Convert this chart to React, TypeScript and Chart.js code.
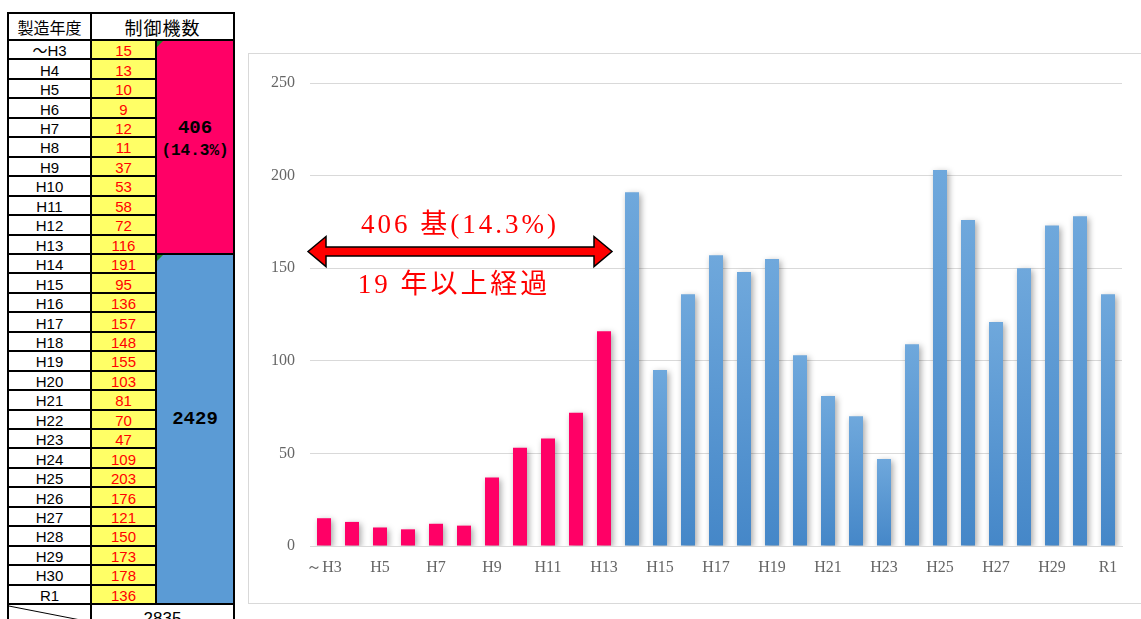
import React, { useEffect, useRef } from 'react';
import { Chart, registerables } from 'chart.js';

Chart.register(...registerables);

// ---- data ----
const categories = ['～H3', 'H4', 'H5', 'H6', 'H7', 'H8', 'H9', 'H10', 'H11', 'H12', 'H13', 'H14', 'H15', 'H16', 'H17', 'H18', 'H19', 'H20', 'H21', 'H22', 'H23', 'H24', 'H25', 'H26', 'H27', 'H28', 'H29', 'H30', 'R1'];
const values = [15, 13, 10, 9, 12, 11, 37, 53, 58, 72, 116, 191, 95, 136, 157, 148, 155, 103, 81, 70, 47, 109, 203, 176, 121, 150, 173, 178, 136];
const oldCount = 11; // ～H3..H13 : 19 years or more
const yTickValues = [0, 50, 100, 150, 200, 250];
const headerLabels = ['製造年度', '制御機数'];
const arrowTitle = '406 基(14.3%)';
const arrowSubtitle = '19 年以上経過';

const total = values.reduce((a, b) => a + b, 0);
const oldTotal = values.slice(0, oldCount).reduce((a, b) => a + b, 0);
const newTotal = total - oldTotal;
const oldPct = ((oldTotal / total) * 100).toFixed(1);

// ---- colours ----
const PINK = '#FF0066';
const BLUE = '#5B9BD5';
const YELLOW = '#FFFF66';
const RED_TEXT = '#FF0000';

// ---- table geometry ----
const X0 = 8, X1 = 91, X2 = 156, X3 = 234;
const HEAD_TOP = 13, TOP = 40, ROW_H = 19.45;

const Line = ({ x, y, w, h }: { x: number; y: number; w: number; h: number }) => (
  <div style={{ position: 'absolute', left: x, top: y, width: w, height: h, background: '#000' }} />
);

const TableView = () => {
  const n = categories.length;
  const bottom = TOP + n * ROW_H;
  const split = TOP + oldCount * ROW_H;
  const cellText: React.CSSProperties = {
    position: 'absolute',
    display: 'flex',
    alignItems: 'center',
    justifyContent: 'center',
    fontFamily: '"Liberation Sans", Arial, "Noto Sans CJK JP", sans-serif',
    fontSize: 15,
    lineHeight: 1,
  };
  const mono = '"Liberation Mono", "DejaVu Sans Mono", monospace';
  const els: React.ReactNode[] = [];
  // header
  els.push(
    <div key="h1" style={{ ...cellText, left: X0, top: HEAD_TOP, width: X1 - X0, height: TOP - HEAD_TOP, fontSize: 16, fontFamily: '"Noto Sans CJK JP", sans-serif', background: '#fff' }}>{headerLabels[0]}</div>,
    <div key="h2" style={{ ...cellText, left: X1, top: HEAD_TOP, width: X3 - X1, height: TOP - HEAD_TOP, fontSize: 18, letterSpacing: 1, fontFamily: '"Noto Sans CJK JP", sans-serif', background: '#fff' }}>{headerLabels[1]}</div>
  );
  categories.forEach((c, i) => {
    const y = TOP + i * ROW_H;
    els.push(
      <div key={'c' + i} style={{ ...cellText, left: X0, top: y, width: X1 - X0, height: ROW_H, background: '#fff', paddingTop: 1 }}>{c}</div>,
      <div key={'v' + i} style={{ ...cellText, left: X1, top: y, width: X2 - X1, height: ROW_H, background: YELLOW, color: RED_TEXT, paddingTop: 1 }}>{values[i]}</div>
    );
  });
  // merged blocks
  els.push(
    <div key="pink" style={{ position: 'absolute', left: X2, top: TOP, width: X3 - X2, height: split - TOP, background: PINK }} />,
    <div key="blue" style={{ position: 'absolute', left: X2, top: split, width: X3 - X2, height: bottom - split, background: BLUE }} />,
    <div key="t1a" style={{ position: 'absolute', left: X2, width: X3 - X2, top: 117, textAlign: 'center', fontFamily: mono, fontWeight: 'bold', fontSize: 19, lineHeight: '22px', color: '#000' }}>
      {String(oldTotal)}
    </div>,
    <div key="t1b" style={{ position: 'absolute', left: X2, width: X3 - X2, top: 141, textAlign: 'center', fontFamily: mono, fontWeight: 'bold', fontSize: 16, lineHeight: '20px', color: '#000' }}>
      ({oldPct}%)
    </div>,
    <div key="t2" style={{ position: 'absolute', left: X2, width: X3 - X2, top: 408, textAlign: 'center', fontFamily: mono, fontWeight: 'bold', fontSize: 19, lineHeight: '22px', color: '#000' }}>
      {String(newTotal)}
    </div>,
    <div key="g1" style={{ position: 'absolute', left: X2 + 1, top: TOP + 1, width: 0, height: 0, borderTop: '6px solid #1e8a1e', borderRight: '6px solid transparent' }} />,
    <div key="g2" style={{ position: 'absolute', left: X2 + 1, top: split + 1, width: 0, height: 0, borderTop: '6px solid #1e8a1e', borderRight: '6px solid transparent' }} />
  );
  // total row
  els.push(
    <div key="tot" style={{ position: 'absolute', left: X1, top: bottom + 6, width: X3 - X1, textAlign: 'center', fontFamily: '"Liberation Sans", Arial, sans-serif', fontSize: 17, lineHeight: 1, color: '#000' }}>{total}</div>,
    <svg key="diag" style={{ position: 'absolute', left: 0, top: 0, overflow: 'visible' }} width={1} height={1}>
      <line x1={X0 + 1} y1={bottom + 2} x2={X1} y2={bottom + 18} stroke="#000" strokeWidth={1} />
    </svg>
  );
  // lines
  els.push(<Line key="lh0" x={X0 - 1} y={HEAD_TOP - 1} w={X3 - X0 + 2} h={2} />);
  els.push(<Line key="lh1" x={X0 - 1} y={TOP - 1} w={X3 - X0 + 2} h={2} />);
  for (let i = 1; i < n; i++) {
    const y = TOP + i * ROW_H;
    const full = i === oldCount;
    els.push(<Line key={'lr' + i} x={X0 - 1} y={y - 1} w={(full ? X3 : X2) - X0 + 2} h={2} />);
  }
  els.push(<Line key="lhb" x={X0 - 1} y={bottom - 1} w={X3 - X0 + 2} h={2} />);
  [X0, X1, X2, X3].forEach((x, k) => {
    const top = k === 2 ? TOP : HEAD_TOP;
    const end = k === 2 ? bottom : 640;
    els.push(<Line key={'lv' + k} x={x - 1} y={top - 1} w={2} h={end - top + 2} />);
  });
  return <>{els}</>;
};

const ChartView = () => {
  const ref = useRef<HTMLCanvasElement | null>(null);
  useEffect(() => {
    const canvas = ref.current;
    if (!canvas) return;

    const shadowPlugin = {
      id: 'barShadow',
      beforeDatasetsDraw(chart: any) {
        const c = chart.ctx;
        c.save();
        c.shadowColor = 'rgba(0,0,0,0.35)';
        c.shadowBlur = 6;
        c.shadowOffsetX = 2;
        c.shadowOffsetY = 2;
      },
      afterDatasetsDraw(chart: any) {
        chart.ctx.restore();
      },
    };

    const arrowPlugin = {
      id: 'arrowAnno',
      afterDraw(chart: any) {
        const c = chart.ctx;
        const xs = chart.scales.x;
        const ys = chart.scales.y;
        const left = xs.getPixelForValue(0) - 16;
        const right = xs.getPixelForValue(oldCount - 1) + 8;
        const cy = ys.getPixelForValue(159);
        const sh = 4.5, hh = 15, hl = 18;
        c.save();
        c.beginPath();
        c.moveTo(left, cy);
        c.lineTo(left + hl, cy - hh);
        c.lineTo(left + hl, cy - sh);
        c.lineTo(right - hl, cy - sh);
        c.lineTo(right - hl, cy - hh);
        c.lineTo(right, cy);
        c.lineTo(right - hl, cy + hh);
        c.lineTo(right - hl, cy + sh);
        c.lineTo(left + hl, cy + sh);
        c.lineTo(left + hl, cy + hh);
        c.closePath();
        c.fillStyle = '#FF0000';
        c.fill();
        c.lineWidth = 1.5;
        c.strokeStyle = '#000';
        c.lineJoin = 'miter';
        c.stroke();
        const mid = (left + right) / 2;
        c.fillStyle = '#FF0000';
        c.font = '27px "Liberation Serif", "Noto Sans CJK JP", serif';
        try { (c as any).letterSpacing = '3px'; } catch (e) { /* ignore */ }
        c.textAlign = 'center';
        c.textBaseline = 'alphabetic';
        c.fillText(arrowTitle, mid, cy - 19);
        c.fillText(arrowSubtitle, mid - 6, cy + 41);
        c.restore();
      },
    };

    const chart = new Chart(canvas, {
      type: 'bar',
      data: {
        labels: categories,
        datasets: [
          {
            data: values,
            backgroundColor: (ctx: any) => {
              const i = ctx.dataIndex;
              if (i < oldCount) return PINK;
              const ch = ctx.chart;
              const ys = ch.scales && ch.scales.y;
              if (!ch.chartArea || !ys) return BLUE;
              const top = ys.getPixelForValue(values[i]);
              const base = ys.getPixelForValue(0);
              const g = ch.ctx.createLinearGradient(0, top, 0, base);
              g.addColorStop(0, '#6FA8DC');
              g.addColorStop(1, '#4587C8');
              return g;
            },
            borderWidth: 0,
            barPercentage: 0.5,
            categoryPercentage: 1,
          },
        ],
      },
      options: {
        responsive: false,
        animation: false,
        layout: { padding: { top: 29, right: 19, left: 0, bottom: 0 } },
        plugins: { legend: { display: false }, tooltip: { enabled: false } },
        scales: {
          x: {
            grid: { display: false, drawTicks: false },
            border: { display: true, color: '#d9d9d9', width: 1 },
            ticks: {
              autoSkip: false,
              maxRotation: 0,
              padding: 12,
              color: '#666666',
              font: { family: '"Liberation Serif", "DejaVu Serif", serif', size: 16 },
              callback: (_v: any, i: number) => (i % 2 === 0 ? categories[i] : ''),
            },
            afterFit: (s: any) => { s.height = 58; },
          },
          y: {
            min: 0,
            max: 250,
            afterBuildTicks: (s: any) => { s.ticks = yTickValues.map((v) => ({ value: v })); },
            grid: { color: '#d9d9d9', lineWidth: 1, drawTicks: false },
            border: { display: false },
            ticks: {
              padding: 15,
              color: '#666666',
              font: { family: '"Liberation Serif", "DejaVu Serif", serif', size: 16 },
            },
            afterFit: (s: any) => { s.width = 62; },
          },
        },
      },
      plugins: [shadowPlugin, arrowPlugin],
    } as any);
    return () => chart.destroy();
  }, []);
  return <canvas ref={ref} width={893} height={550} style={{ position: 'absolute', left: 248, top: 54, width: 893, height: 550 }} />;
};

export default function App() {
  return (
    <div style={{ position: 'fixed', left: 0, top: 0, width: 1141, height: 619, overflow: 'hidden', background: '#fff' }}>
      <div style={{ position: 'absolute', left: 248, top: 53, width: 920, height: 551, border: '1px solid #d9d9d9', boxSizing: 'border-box' }} />
      <ChartView />
      <TableView />
    </div>
  );
}
